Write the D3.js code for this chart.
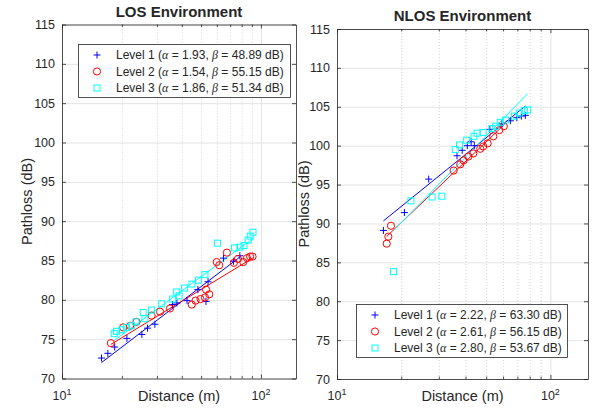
<!DOCTYPE html>
<html>
<head>
<meta charset="utf-8">
<script src="https://cdn.jsdelivr.net/npm/d3@7"></script>
<style>
  body { margin: 0; background: #fff; }
  svg { display: block; }
  text { font-family: "Liberation Sans", Arial, Helvetica, sans-serif; fill: #262626; }
</style>
</head>
<body>
<svg id="chart" width="592" height="409"></svg>
<script>
// Measured path loss, [distance (m), pathloss (dB)] per level
const los1 = [[15.8,72.6],[17.0,73.2],[18.4,74.0],[21.2,75.1],[25.2,75.6],[26.9,76.4],[29.3,76.9],
  [35.9,79.4],[37.8,79.6],[42.5,79.9],[48.2,81.3],[52.9,79.8],[54.2,82.3],[64.8,85.3],[72.8,84.9],[78.3,85.6]];
const los2 = [[17.6,74.5],[20.3,76.5],[22.0,76.7],[23.7,77.2],[28.2,78.0],[31.1,78.5],[34.9,78.9],
  [44.9,79.4],[46.9,79.9],[49.7,80.1],[52.3,80.3],[55.0,80.7],[53.0,81.3],[59.9,84.8],[61.7,84.4],
  [67.4,86.0],[73.1,84.7],[76.6,85.2],[81.5,84.8],[85.1,85.3],[88.2,85.5],[90.7,85.5]];
const los3 = [[18.3,75.7],[18.8,76.0],[20.0,76.2],[21.1,76.5],[22.4,76.7],[23.5,77.2],[25.6,78.4],
  [26.1,77.6],[28.2,78.7],[31.7,79.5],[36.0,80.1],[37.7,81.0],[38.8,80.5],[41.3,81.5],[45.0,82.0],
  [48.5,82.5],[52.3,83.2],[60.4,87.2],[73.6,86.6],[78.4,86.7],[82.2,86.9],[86.3,87.6],[88.3,88.1],[91.2,88.6]];
const nlos1 = [[16.5,89.1],[20.7,91.4],[26.9,95.7],[36.5,98.7],[38.6,99.4],[40.8,100.0],[42.5,100.5],
  [44.0,100.0],[52.0,102.1],[59.3,102.8],[64.9,103.2],[69.6,103.6],[73.1,103.8],[76.3,103.9]];
const nlos2 = [[17.1,87.4],[17.4,88.3],[17.9,89.7],[35.2,96.8],[37.8,97.6],[39.2,98.1],[41.3,98.6],
  [43.5,99.0],[46.9,99.6],[48.4,99.9],[50.8,100.3],[54.0,101.2],[57.6,102.0],[60.5,102.5]];
const nlos3 = [[18.4,83.8],[22.2,92.9],[27.9,93.4],[31.0,93.5],[35.8,99.5],[37.5,100.1],[40.5,100.7],
  [43.8,101.2],[45.3,101.6],[48.4,101.7],[53.2,102.2],[55.4,102.5],[58.2,103.0],[61.5,103.3],
  [67.8,103.8],[71.5,104.2],[75.5,104.5],[78.3,104.6]];

// Fitted log-distance model parameters: PL = beta + 10*alpha*log10(d)
const losAlpha = [1.93, 1.54, 1.86];
const losBeta = [48.89, 55.15, 51.34];
const nlosAlpha = [2.22, 2.61, 2.80];
const nlosBeta = [63.30, 56.15, 53.67];

const levelNames = ["Level 1", "Level 2", "Level 3"];
const levelColors = ["#0000ff", "#ff0000", "#00ffff"];
const markerShapes = ["plus", "circle", "square"];

const xDomain = [10, 150];
const yDomain = [70, 115];
const yTicks = [70, 75, 80, 85, 90, 95, 100, 105, 110, 115];
const xMajorTicks = [10, 100];
const xMinorTicks = [20, 30, 40, 50, 60, 70, 80, 90];

const svg = d3.select("#chart");
const axisColor = "#262626";

function drawMarker(sel, shape, color) {
  if (shape === "plus") {
    sel.append("path").attr("d", "M-3.5,0H3.5M0,-3.5V3.5")
      .attr("stroke", color).attr("stroke-width", 1).attr("fill", "none");
  } else if (shape === "circle") {
    sel.append("circle").attr("r", 3.6)
      .attr("stroke", color).attr("stroke-width", 1).attr("fill", "none");
  } else {
    sel.append("rect").attr("x", -3).attr("y", -3).attr("width", 6).attr("height", 6)
      .attr("stroke", color).attr("stroke-width", 1).attr("fill", "none");
  }
}

function drawPanel(p) {
  const x = d3.scaleLog().domain(xDomain).range([p.left, p.right]);
  const y = d3.scaleLinear().domain(yDomain).range([p.bottom, p.top]);
  const w = p.right - p.left, h = p.bottom - p.top;
  const g = svg.append("g");

  // grid: horizontal majors, vertical majors, dotted vertical minors
  g.append("g").attr("transform", `translate(${p.left},0)`)
    .call(d3.axisLeft(y).tickValues(yTicks).tickSize(-w).tickFormat(""))
    .call(a => a.select(".domain").remove())
    .call(a => a.selectAll("line").attr("stroke", "#e4e4e4"));
  g.append("g").attr("transform", `translate(0,${p.bottom})`)
    .call(d3.axisBottom(x).tickValues(xMajorTicks).tickSize(-h).tickFormat(""))
    .call(a => a.select(".domain").remove())
    .call(a => a.selectAll("line").attr("stroke", "#e4e4e4"));
  g.append("g").attr("transform", `translate(0,${p.bottom})`)
    .call(d3.axisBottom(x).tickValues(xMinorTicks).tickSize(-h).tickFormat(""))
    .call(a => a.select(".domain").remove())
    .call(a => a.selectAll("line").attr("stroke", "#d4d4d4").attr("stroke-dasharray", "1,2"));

  // fitted lines and measured points
  p.series.forEach((data, i) => {
    const ds = data.map(d => d[0]);
    const d0 = d3.min(ds), d1 = d3.max(ds);
    const fit = d => p.beta[i] + 10 * p.alpha[i] * Math.log10(d);
    g.append("line")
      .attr("x1", x(d0)).attr("y1", y(fit(d0)))
      .attr("x2", x(d1)).attr("y2", y(fit(d1)))
      .attr("stroke", levelColors[i]).attr("stroke-width", 1);
  });
  p.series.forEach((data, i) => {
    g.append("g").selectAll("g").data(data).join("g")
      .attr("transform", d => `translate(${x(d[0])},${y(d[1])})`)
      .each(function () { drawMarker(d3.select(this), markerShapes[i], levelColors[i]); });
  });

  // axes with inward ticks on all four sides
  const yl = g.append("g").attr("transform", `translate(${p.left},0)`)
    .call(d3.axisLeft(y).tickValues(yTicks).tickSizeInner(-4).tickSizeOuter(0).tickPadding(7));
  yl.selectAll("text").attr("font-size", "12.5px").attr("fill", axisColor)
    .attr("font-family", "Liberation Sans, Arial, sans-serif");
  g.append("g").attr("transform", `translate(${p.right},0)`)
    .call(d3.axisRight(y).tickValues(yTicks).tickSizeInner(-4).tickSizeOuter(0).tickFormat(""));
  const xb = g.append("g").attr("transform", `translate(0,${p.bottom})`)
    .call(d3.axisBottom(x).tickValues(xMajorTicks).tickSizeInner(-4).tickSizeOuter(0).tickFormat(""));
  g.append("g").attr("transform", `translate(0,${p.bottom})`)
    .call(d3.axisBottom(x).tickValues(xMinorTicks).tickSizeInner(-2.5).tickSizeOuter(0).tickFormat(""))
    .call(a => a.select(".domain").remove());
  g.append("g").attr("transform", `translate(0,${p.top})`)
    .call(d3.axisTop(x).tickValues(xMajorTicks).tickSizeInner(-4).tickSizeOuter(0).tickFormat(""));
  g.append("g").attr("transform", `translate(0,${p.top})`)
    .call(d3.axisTop(x).tickValues(xMinorTicks).tickSizeInner(-2.5).tickSizeOuter(0).tickFormat(""))
    .call(a => a.select(".domain").remove());
  g.selectAll(".domain, .tick line:not([stroke-dasharray])").filter(function () {
    return !this.getAttribute("stroke") || this.getAttribute("stroke") === "currentColor";
  }).attr("stroke", axisColor).attr("stroke-width", 0.8);

  // log tick labels 10^n
  xMajorTicks.forEach(v => {
    const t = g.append("text").attr("x", x(v)).attr("y", 400)
      .attr("text-anchor", "middle").attr("font-size", "12.5px");
    t.append("tspan").text("10");
    t.append("tspan").attr("dy", -5.5).attr("font-size", "9px").text(String(Math.round(Math.log10(v))));
  });

  // axis labels and title
  g.append("text").attr("x", (p.left + p.right) / 2).attr("y", 401)
    .attr("text-anchor", "middle").attr("font-size", "14.5px").text("Distance (m)");
  g.append("text").attr("transform", `translate(${p.ylabelX},${(p.top + p.bottom) / 2}) rotate(-90)`)
    .attr("text-anchor", "middle").attr("font-size", "14.5px").text("Pathloss (dB)");
  g.append("text").attr("x", (p.left + p.right) / 2).attr("y", p.top - 8)
    .attr("text-anchor", "middle").attr("font-size", "15px").attr("font-weight", "bold")
    .attr("fill", "#000").text(p.title);

  // legend
  const lg = g.append("g").attr("transform", `translate(${p.legX},${p.legY})`);
  lg.append("rect").attr("x", 0.5).attr("y", 0.5).attr("width", p.legW).attr("height", 53)
    .attr("fill", "#fff").attr("stroke", axisColor).attr("stroke-width", 0.8);
  levelNames.forEach((name, i) => {
    const row = lg.append("g").attr("transform", `translate(0,${11 + i * 16.5})`);
    const m = row.append("g").attr("transform", "translate(19,0)");
    drawMarker(m, markerShapes[i], levelColors[i]);
    const t = row.append("text").attr("x", 38).attr("y", 4.3).attr("font-size", "12px").attr("fill", "#000");
    t.append("tspan").text(name + " (");
    t.append("tspan").attr("font-family", "Liberation Serif, serif").attr("font-style", "italic").text("α");
    t.append("tspan").text(` = ${p.alpha[i].toFixed(2)}, `);
    t.append("tspan").attr("font-family", "Liberation Serif, serif").attr("font-style", "italic").text("β");
    t.append("tspan").text(` = ${p.beta[i].toFixed(2)} dB)`);
  });
}

drawPanel({
  title: "LOS Environment", left: 62, right: 296, top: 24.5, bottom: 378.5,
  series: [los1, los2, los3], alpha: losAlpha, beta: losBeta,
  ylabelX: 32, legX: 78, legY: 44, legW: 212
});
drawPanel({
  title: "NLOS Environment", left: 337, right: 588, top: 29, bottom: 379,
  series: [nlos1, nlos2, nlos3], alpha: nlosAlpha, beta: nlosBeta,
  ylabelX: 309, legX: 356, legY: 304, legW: 211
});
</script>
</body>
</html>
